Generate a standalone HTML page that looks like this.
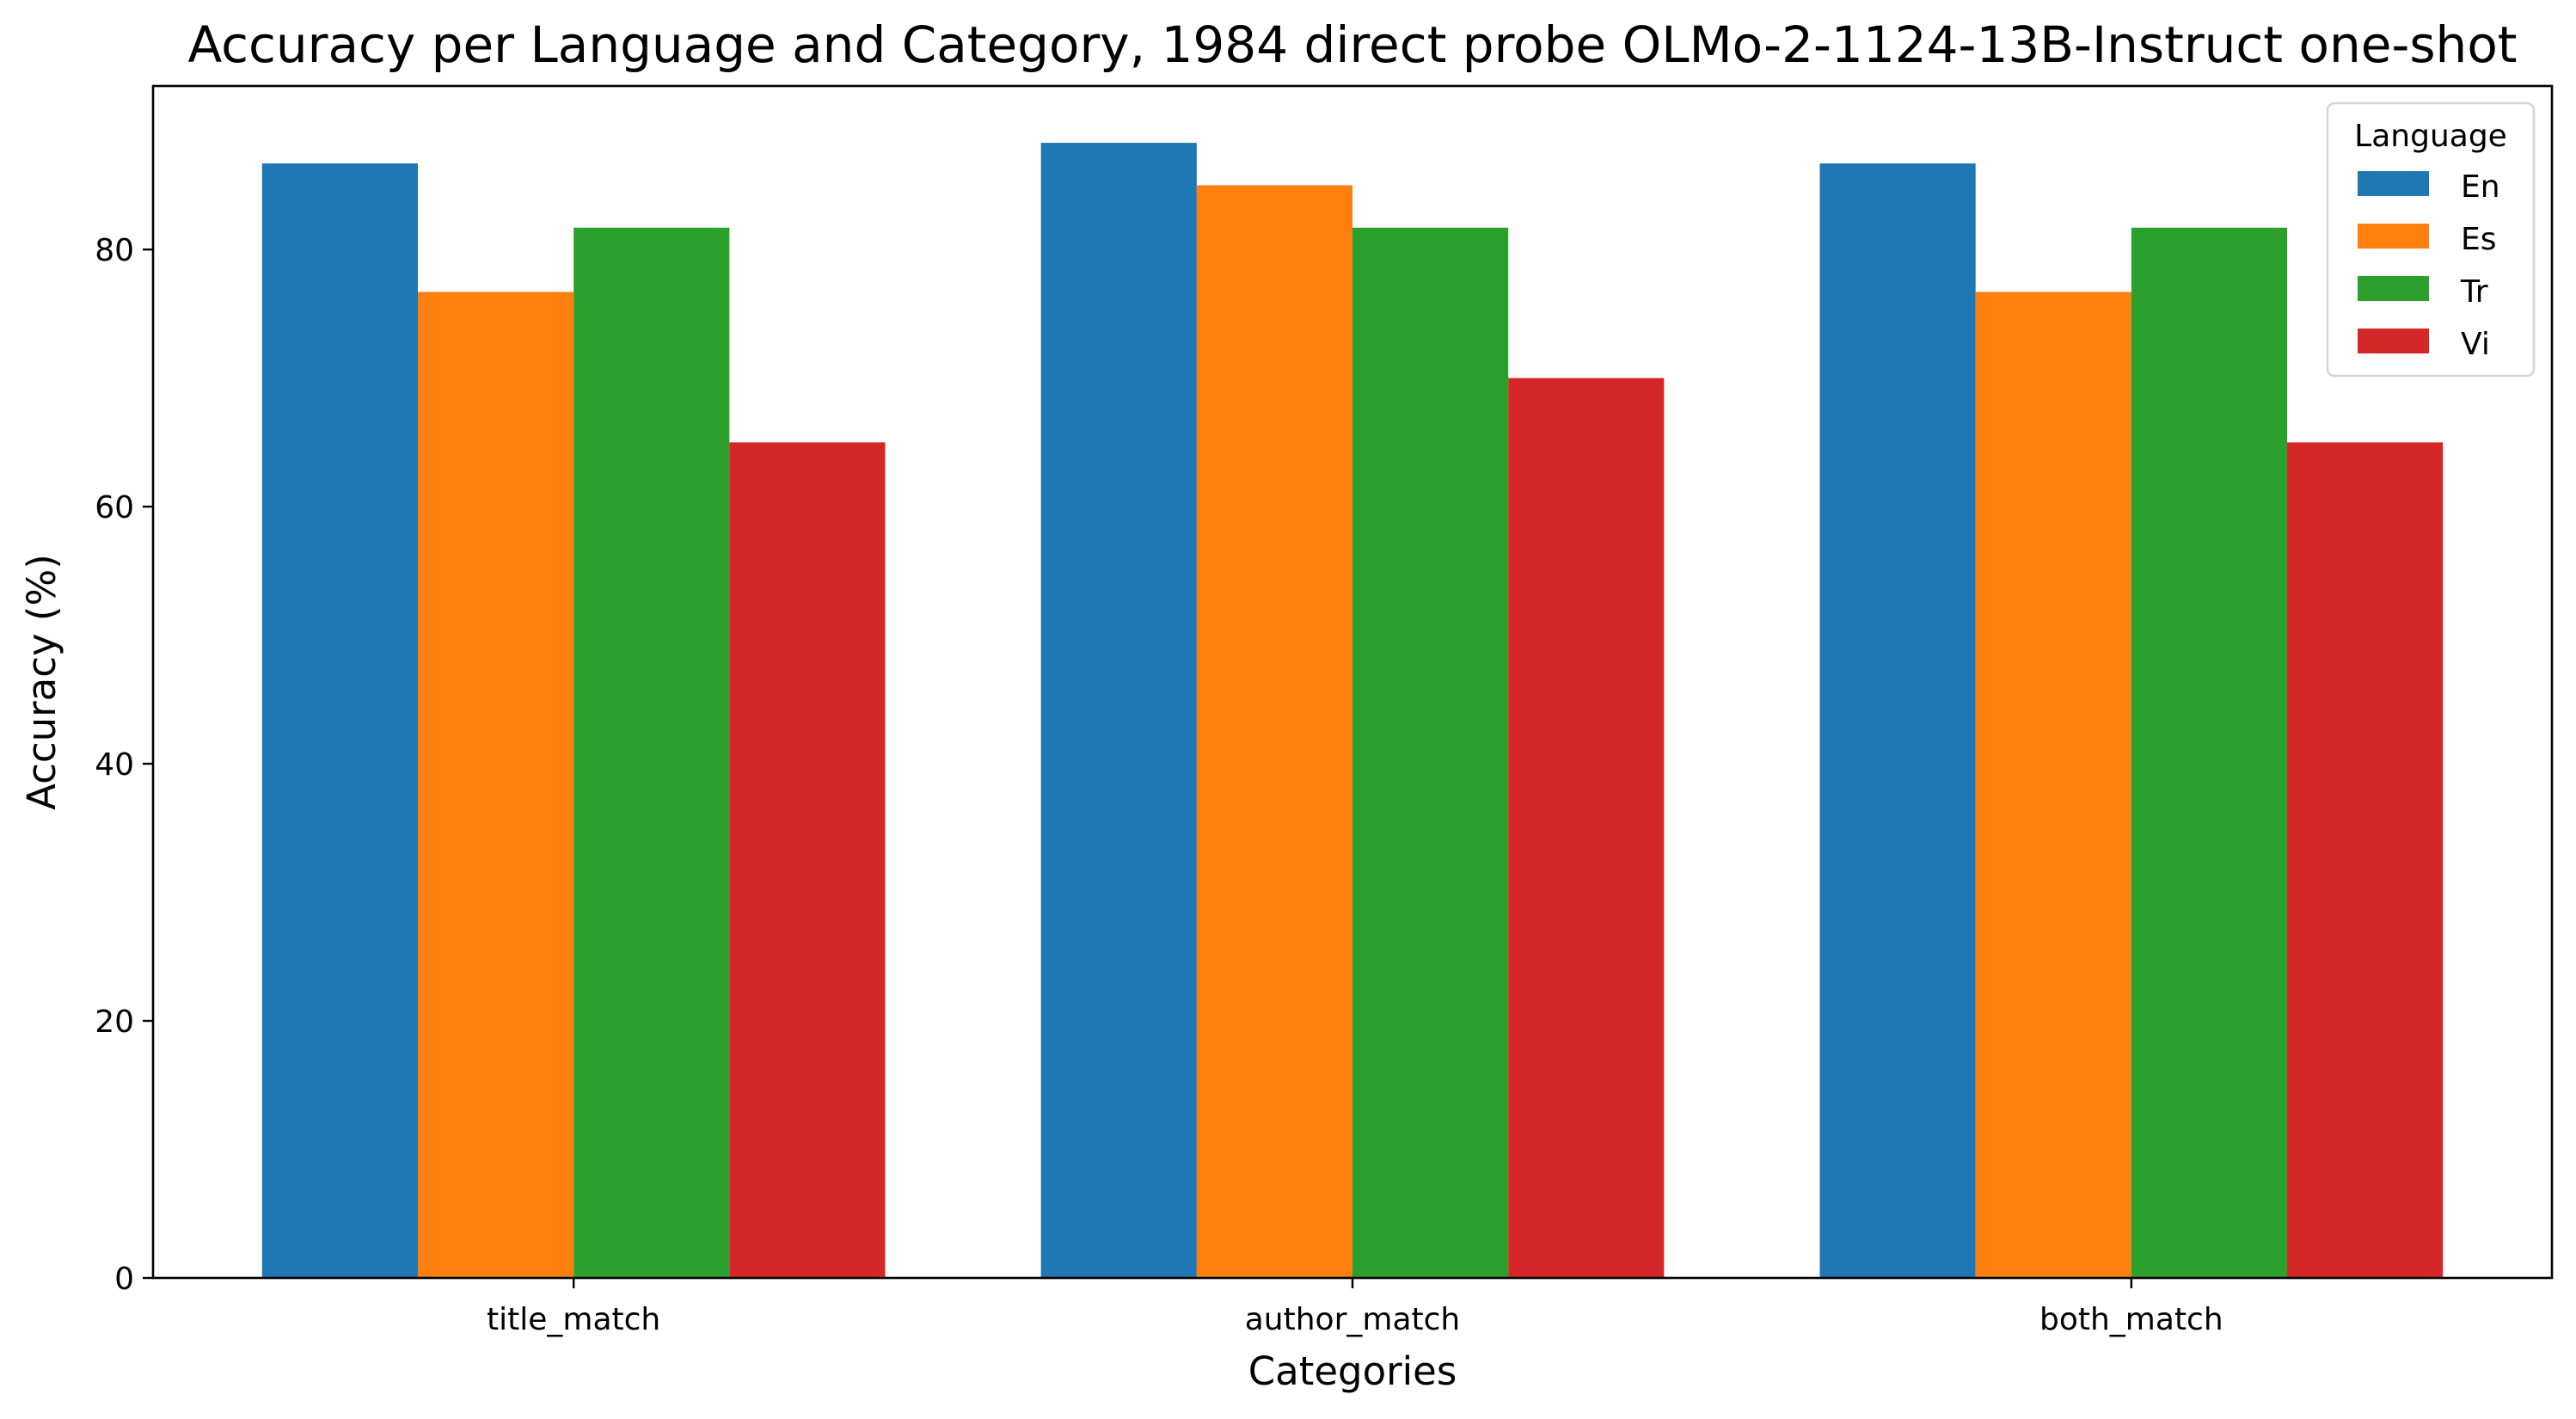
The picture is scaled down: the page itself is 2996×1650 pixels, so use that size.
<!DOCTYPE html>
<html><head><meta charset="utf-8">
<style>
html,body{margin:0;padding:0;background:#fff;}
svg{display:block;font-family:"DejaVu Sans","Liberation Sans",sans-serif;}
</style></head>
<body>
<svg id="chart" width="2996" height="1650" viewBox="0 0 2996 1650" xmlns="http://www.w3.org/2000/svg">
<rect width="2996" height="1650" fill="#fff"/>
<text x="1573" y="72" font-size="58" text-anchor="middle">Accuracy per Language and Category, 1984 direct probe OLMo-2-1124-13B-Instruct one-shot</text>
<g id="bars"></g>
<g id="axes"></g>
<text x="1573" y="1610" font-size="45" text-anchor="middle">Categories</text>
<text transform="translate(64,793) rotate(-90)" font-size="45" text-anchor="middle">Accuracy (%)</text>
<g id="legend"></g>
</svg>
<script>
const categories = ["title_match","author_match","both_match"];
const languages = ["En","Es","Tr","Vi"];
const colors = ["#1f77b4","#ff7f0e","#2ca02c","#d62728"];
const valuesEn = [86.7, 88.3, 86.7];
const valuesEs = [76.7, 85.0, 76.7];
const valuesTr = [81.7, 81.7, 81.7];
const valuesVi = [65.0, 70.0, 65.0];
const yTicks = [0,20,40,60,80];

const series = [valuesEn, valuesEs, valuesTr, valuesVi];
const L=178, R=2968, T=100, B=1486;
const xMin=-0.54, xMax=2.54, yMax=92.72;
const xs = v => L + (v - xMin)/(xMax - xMin)*(R - L);
const ys = v => B - v/yMax*(B - T);
const NS="http://www.w3.org/2000/svg";
function mk(tag, attrs, parent){const e=document.createElementNS(NS,tag);for(const k in attrs)e.setAttribute(k,attrs[k]);parent.appendChild(e);return e;}
const barsG=document.getElementById('bars');
const w=0.2;
series.forEach((vals,si)=>{
  vals.forEach((v,ci)=>{
    const c = ci + (si-1.5)*w;
    const x0=xs(c-w/2), x1=xs(c+w/2);
    const r=mk('rect',{x:x0,y:ys(v),width:x1-x0,height:ys(0)-ys(v),fill:colors[si]},barsG);
    
    
  });
});
const ax=document.getElementById('axes');
const frame=mk('rect',{x:L,y:T,width:R-L,height:B-T,fill:'none',stroke:'#000','stroke-width':2.6},ax);


yTicks.forEach(t=>{
  const y=ys(t);
  const tk=mk('line',{x1:L-12,x2:L,y1:y,y2:y,stroke:'#000','stroke-width':2.4},ax);
  
  
  const tx=mk('text',{x:L-22,y:y+13,'font-size':36,'text-anchor':'end'},ax);
  tx.textContent=t;
  
  
});
categories.forEach((c,i)=>{
  const x=xs(i);
  const tk=mk('line',{x1:x,x2:x,y1:B,y2:B+12,stroke:'#000','stroke-width':2.4},ax);
  
  
  const tx=mk('text',{x:x,y:1546,'font-size':36,'text-anchor':'middle'},ax);
  tx.textContent=c;
  
  
});
const lg=document.getElementById('legend');
const box=mk('rect',{x:2707,y:120,width:240,height:317,rx:8,fill:'#fff','fill-opacity':0.8,stroke:'#d6d6d6','stroke-width':2.6},lg);


const lt=mk('text',{x:2827,y:170,'font-size':36,'text-anchor':'middle'},lg);
lt.textContent='Language';


languages.forEach((l,i)=>{
  const y=199+i*61;
  const p=mk('rect',{x:2742,y:y,width:83,height:29,fill:colors[i]},lg);
  
  
  const t=mk('text',{x:2862,y:y+30,'font-size':36},lg);
  t.textContent=l;
  
  
});
</script>
</body></html>
